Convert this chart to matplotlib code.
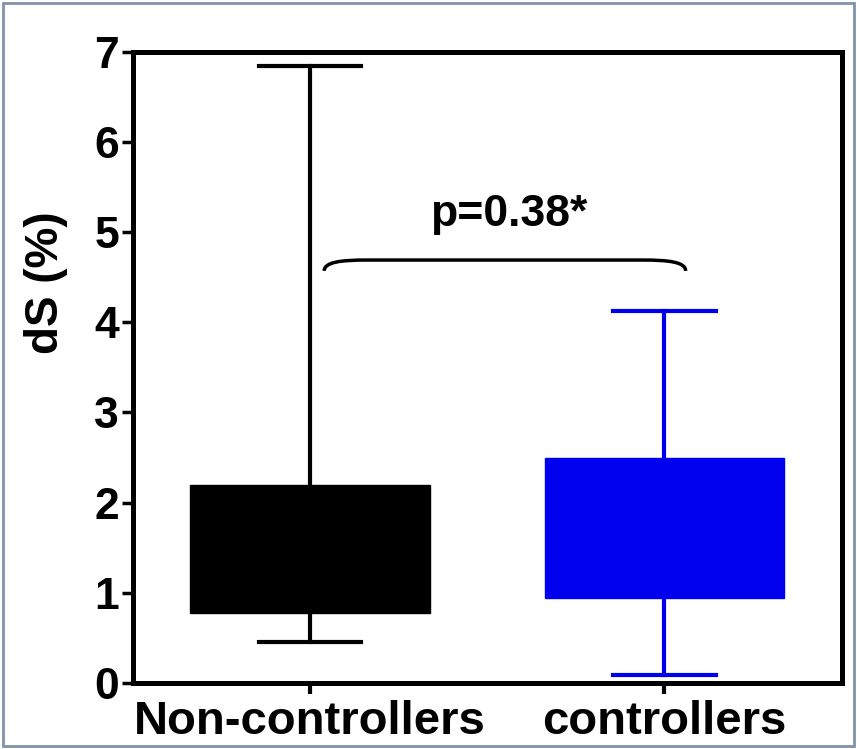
import matplotlib
matplotlib.use("Agg")
import matplotlib.pyplot as plt
from matplotlib.patches import Rectangle, PathPatch
from matplotlib.path import Path

plt.rcParams['font.family'] = ['Liberation Sans', 'DejaVu Sans']
plt.rcParams['font.weight'] = 'bold'

categories = ["Non-controllers", "controllers"]
whislo = [0.45, 0.09]
q1 = [0.78, 0.94]
med = [1.40, 1.60]
q3 = [2.20, 2.50]
whishi = [6.84, 4.12]
colors = ["#000000", "#0000ee"]
y_ticks = [0, 1, 2, 3, 4, 5, 6, 7]
p_text = "p=0.38*"

fig = plt.figure(figsize=(8.57, 7.49), dpi=100)
ax = fig.add_axes([0.155, 0.088, 0.827, 0.843])

positions = list(range(len(categories)))
for i, cat in enumerate(categories):
    st = [dict(label=cat, whislo=whislo[i], q1=q1[i], med=med[i], q3=q3[i], whishi=whishi[i], fliers=[])]
    c = colors[i]
    ax.bxp(st, positions=[positions[i]], widths=0.676, patch_artist=True, showfliers=False,
           boxprops=dict(facecolor=c, edgecolor=c, linewidth=1),
           medianprops=dict(color=c, linewidth=1),
           whiskerprops=dict(color=c, linewidth=3),
           capprops=dict(color=c, linewidth=3),
           capwidths=0.29, manage_ticks=False)

ax.set_xlim(-0.5, 1.5)
ax.set_ylim(0, 7)
ax.set_yticks(y_ticks)
ax.set_yticklabels([str(t) for t in y_ticks], fontsize=32, fontweight='bold')
ax.set_xticks(positions)
ax.set_xticklabels(categories, fontsize=34, fontweight='bold')
ax.set_ylabel("dS (%)", fontsize=33, fontweight='bold')
ax.yaxis.set_label_coords(-0.092, 0.634)
for s in ax.spines.values():
    s.set_linewidth(3.6)
ax.tick_params(axis='y', direction='out', length=8, width=2.5, pad=2)
ax.tick_params(axis='x', direction='out', length=8, width=3, pad=4)

# bracket annotation
xl, xr = positions[0] + 0.04, positions[1] + 0.06
ytop, yend = 4.69, 4.57
r = 0.12
verts = [(xl, yend), (xl, ytop - 0.02), (xl + 0.05, ytop), (xl + r, ytop),
         (xr - r, ytop),
         (xr - 0.05, ytop), (xr, ytop - 0.02), (xr, yend)]
codes = [Path.MOVETO, Path.CURVE4, Path.CURVE4, Path.CURVE4,
         Path.LINETO,
         Path.CURVE4, Path.CURVE4, Path.CURVE4]
ax.add_patch(PathPatch(Path(verts, codes), fill=False, lw=2.5, color='black'))
ax.text(0.56, 5.2, p_text, ha='center', va='center', fontsize=32, fontweight='bold')

fig.patches.append(Rectangle((0.004, 0.004), 0.992, 0.992, transform=fig.transFigure,
                             fill=False, edgecolor='#8092aa', lw=2))

fig.savefig("out.png", dpi=100)
